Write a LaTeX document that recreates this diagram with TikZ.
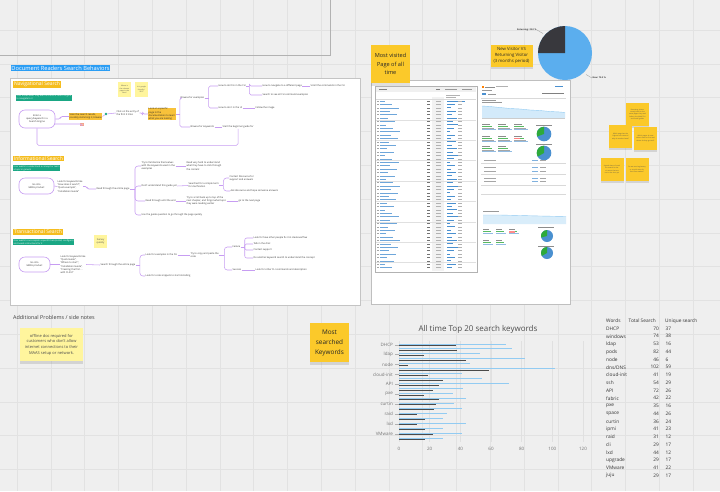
\documentclass[tikz,border=0pt]{standalone}
\usepackage{fontspec}
\setmainfont{Open Sans}
\usetikzlibrary{calc,shadows}
\definecolor{bgc}{HTML}{EFEFEF}
\definecolor{gridc}{HTML}{E2E2E2}
\definecolor{framec}{HTML}{C4C4C4}
\definecolor{flowc}{HTML}{C79DF2}
\definecolor{hlor}{HTML}{F8C23A}
\definecolor{secor}{HTML}{F5BD1F}
\definecolor{tealc}{HTML}{1AA784}
\definecolor{titleblue}{HTML}{2A9DF4}
\definecolor{lightsticky}{HTML}{FFF59D}
\definecolor{deepsticky}{HTML}{FBC92A}
\definecolor{pieblue}{HTML}{5BAEEE}
\definecolor{piedark}{HTML}{38383D}
\definecolor{barblue}{HTML}{92CBF2}
\definecolor{bardark}{HTML}{4A4A4A}
\definecolor{scrblue}{HTML}{4A90D0}
\definecolor{sgreen}{HTML}{2EAA3A}
\definecolor{linkred}{HTML}{F4A28C}
\newcommand{\fs}[2]{\fontsize{#1}{#2}\selectfont}
\begin{document}
\begin{tikzpicture}[x=1pt,y=-1pt,
  tx/.style={font=\fs{2.4}{3.1}, text=black!80, inner sep=0.4pt, align=left, anchor=west},
  fl/.style={draw=flowc, line width=0.55pt, rounded corners=1.6pt},
  startbox/.style={draw=flowc, line width=0.6pt, rounded corners=6pt, fill=white, font=\fs{2.4}{3.1}, align=center, text=black!80},
  hl/.style={fill=hlor, text=black!85, font=\fs{2.4}{3.1}, inner sep=0.5pt, align=left, anchor=west},
  seclabel/.style={fill=secor, text=white, font=\fs{5}{6}, inner sep=0.8pt, anchor=north west},
  teallabel/.style={fill=tealc, text=white, font=\fs{2.2}{2.9}, inner sep=0.5pt, anchor=north west, align=left},
  ministicky/.style={fill=lightsticky, font=\fs{1.7}{2.2}, text=black!70, align=center, minimum width=13pt, minimum height=15pt, inner sep=0.3pt, text width=11pt},
  bigsticky/.style={fill=deepsticky, text=black!85, align=center, inner sep=0pt, drop shadow={shadow xshift=0pt, shadow yshift=-2.5pt, opacity=0.25}},
  smallsticky/.style={fill=deepsticky, text=black!70, align=center, inner sep=0.5pt, font=\fs{1.6}{2.2}, text width=20pt, minimum width=23pt, minimum height=23pt, drop shadow={shadow xshift=0pt, shadow yshift=-1.5pt, opacity=0.25}},
  axlab/.style={font=\fs{4.5}{5}, text=black!55},
  tab/.style={font=\fs{4.8}{5.5}, text=black!80, inner sep=0pt},
]
\useasboundingbox (0,0) rectangle (720,491);
\fill[bgc] (0,0) rectangle (720,491);
% grid
\foreach \i in {0,...,21} \draw[gridc, line width=0.5pt] ({17+33.8*\i},0) -- ({17+33.8*\i},491);
\foreach \j in {0,...,13} \draw[gridc, line width=0.5pt] (0,{30+33.8*\j}) -- (720,{30+33.8*\j});
% top frame edge
\draw[black!30, line width=0.8pt] (0,55) -- (330,55) -- (330,0);

% ===== Main behaviours frame =====
\node[fill=titleblue, text=white, font=\fs{5.7}{6.5}, inner sep=0.8pt, anchor=north west] (title) at (10.5,65) {Document Readers Search Behaviors};
\draw[fill=white, draw=framec, line width=0.8pt] (10,78) rectangle (360,305);

% --- Navigational ---
\node[seclabel] (navl) at (13,81) {Navigational Search};
\node[teallabel] (navt) at (16,94.5) {User knows what they want and uses a search engine\\to navigate to it};
\node[ministicky] (ms1) at (124.5,89.5) {Where is\\the relevant\\page in the\\docs?};
\node[ministicky] (ms2) at (141.5,89.5) {Is it google\\friendly /\\SEO?};
\node[startbox, minimum width=36pt, minimum height=18pt] (n1) at (37,119) {Enter a\\query/keyword in a\\Search Engine};
\node[hl] (scan) at (69,116.5) {Scan the search results,\\possibly skimming it, browse};
\node[fill=linkred, text=white, font=\fs{1.8}{2}, inner sep=0.5pt] (link) at (82,124.5) {link};
\node[circle, fill=tealc, inner sep=0pt, minimum size=2.6pt] (dot) at (106,114) {};
\node[tx] (click) at (116,113) {Click on the entry of\\the first 3 links};
\node[hl] (look) at (148,114) {Look at a specific\\page in the\\documentation to learn\\what you are looking};
\node[tx] (bex) at (180,98) {Browse for examples};
\node[tx] (cli) at (218,86) {How to do this in the CLI};
\node[tx] (nav) at (262,86) {How to navigate to a different page};
\node[tx] (scr) at (310,86) {Scroll the commands in the CLI};
\node[tx] (seeall) at (262,95) {Search to see all CLI command examples};
\node[tx] (ui) at (218,108) {How to do it in the UI};
\node[tx] (img) at (255,108) {Follow the image};
\node[tx] (bkw) at (190,127) {Browse for keywords};
\node[tx] (beg) at (222,127) {Start the beginner guide for};
\draw[fl] (n1.east) -- ++(5,0) |- (scan.west);
\draw[fl] (link.south) |- ($(n1.east)+(-1,5)$);
\draw[fl] (scan.east) -- (dot) -- (click.west);
\draw[fl] (click.east) -- ++(3,0) |- (look.west);
\draw[fl] (look.east) -- ++(4,0) coordinate (h1);
\draw[fl] (h1) |- (bex.west);
\draw[fl] (h1) |- (bkw.west);
\draw[fl] (bex.east) -- ++(4,0) coordinate (h2);
\draw[fl] (h2) |- (cli.west);
\draw[fl] (h2) |- (ui.west);
\draw[fl] (cli.east) -- ++(3,0) coordinate (h3);
\draw[fl] (h3) |- (nav.west);
\draw[fl] (h3) |- (seeall.west);
\draw[fl] (nav.east) -- (scr.west);
\draw[fl] (ui.east) -- (img.west);
\draw[fl] (bkw.east) -- (beg.west);
\draw[fl] (beg.south) |- ($(n1.south)+(0,17)$) -- (n1.south);

% --- Informational ---
\node[seclabel] (infl) at (13,155.5) {Informational Search};
\node[teallabel] (inft) at (13,165) {User wants to understand a concept or learn\\a topic in general};
\node[startbox, minimum width=35pt, minimum height=16pt] (m1) at (36.5,186) {Go into\\MAAS product};
\node[tx] (kw2) at (57,186.5) {Look for keywords like\\``How does it work?'',\\``Quick example'',\\``Installation Guide''};
\node[tx] (read2) at (96,189) {Read through the entire page};
\node[tx] (fam) at (141,166) {Try to familiarize themselves\\with the keywords used in the\\examples};
\node[tx] (hard) at (186,166) {Read very hard to understand\\what they have to click through\\the content};
\node[tx] (dont) at (141,186) {Don't understand this guide yet};
\node[tx] (simple) at (188,185.5) {Searched for a simple term\\for clarification};
\node[tx] (contact) at (229,178) {Contact Discourse for\\support and answers};
\node[tx] (ask) at (230,191) {Ask discourse and hope someone answers};
\node[tx] (until) at (145,201) {Read through until the end};
\node[tx] (scb) at (186,201) {Try to scroll back up to top of the\\next chapter, and forgot what topic\\they were reading earlier};
\node[tx] (nextp) at (238,201) {go to the next page};
\node[tx] (use) at (141,215) {Use the guide question to go through the page quickly};
\draw[fl] (m1.east) -- (kw2.west);
\draw[fl] (kw2.east) -- ++(4,0) |- (read2.west);
\draw[fl] (read2.east) -- ++(5,0) coordinate (h4);
\draw[fl, rounded corners=3pt] (h4) |- (fam.west);
\draw[fl, rounded corners=3pt] (h4) |- (dont.west);
\draw[fl, rounded corners=3pt] (h4) |- (until.west);
\draw[fl, rounded corners=3pt] (h4) |- (use.west);
\draw[fl] (fam.east) -- (hard.west);
\draw[fl] (dont.east) -- (simple.west);
\draw[fl] (simple.east) -- ++(4,0) coordinate (h5);
\draw[fl, rounded corners=3pt] (h5) |- (contact.west);
\draw[fl, rounded corners=3pt] (h5) |- (ask.west);
\draw[fl] (until.east) -- (scb.west);
\draw[fl] (scb.east) -- (nextp.west);

% --- Transactional ---
\node[seclabel] (trl) at (13,229) {Transactional Search};
\node[teallabel] (trt) at (13,239) {User wants to accomplish a specific task (install, configure)\\and needs instructions for it};
\node[ministicky, font=\fs{2.4}{3.2}, text width=12pt, minimum height=13pt] (survey) at (100.5,241.5) {Survey\\quickly};
\node[startbox, minimum width=31pt, minimum height=15pt] (t1) at (34.5,264.5) {Go into\\MAAS product};
\node[tx, font=\fs{2.4}{3.3}] (kw3) at (60,264.5) {Look for keywords like\\``Quick Guide'',\\``Where to start'',\\``Installation Guide'',\\``Creating the first ...\\with CLI/UI''};
\node[tx] (search3) at (100,265) {Search through the entire page};
\node[tx] (ex3) at (145,255) {Look for examples in the CLI};
\node[tx] (snip) at (145,276) {Look for code snippets to start installing};
\node[tx] (copy) at (190,255) {Try to copy and paste the\\code};
\node[tx] (fail) at (232,247) {Failure};
\node[tx] (succ) at (232,270) {Success};
\node[tx] (so) at (253,238) {Look for how other people fix it in stackoverflow};
\node[tx] (chat) at (253,244) {Talk in the chat};
\node[tx] (sup) at (253,250) {Contact support};
\node[tx] (another) at (253,258) {Do another keyword search to understand the concept};
\node[tx] (other) at (255,270) {Look for other CLI commands and description};
\draw[fl] (t1.east) -- (kw3.west);
\draw[fl] (kw3.east) -- (search3.west);
\draw[fl] (search3.east) -- ++(4,0) coordinate (h6);
\draw[fl, rounded corners=3pt] (h6) |- (ex3.west);
\draw[fl, rounded corners=3pt] (h6) |- (snip.west);
\draw[fl] (ex3.east) -- (copy.west);
\draw[fl] (copy.east) -- ++(5,0) coordinate (h7);
\draw[fl, rounded corners=3pt] (h7) |- (fail.west);
\draw[fl, rounded corners=3pt] (h7) |- (succ.west);
\draw[fl] (fail.east) -- ++(4,0) coordinate (h8);
\draw[fl, rounded corners=2pt] (h8) |- (so.west);
\draw[fl] (h8) |- (chat.west);
\draw[fl] (h8) |- (sup.west);
\draw[fl, rounded corners=2pt] (h8) |- (another.west);
\draw[fl] (succ.east) -- (other.west);

% ===== Screenshot of analytics =====
\draw[fill=white, draw=black!25, line width=0.8pt] (371,80) rectangle (570,304);
\draw[fill=white, draw=black!30, line width=0.6pt] (375,86) rectangle (477,272);
\fill[black!6] (376,87) rectangle (476,92);
\draw[black!50, line width=0.4pt] (379,89.5) -- ++(8,0);
\draw[black!50, line width=0.6pt] (436,89.5) -- ++(4,0);
\draw[black!40, line width=0.4pt] (445,89.5) -- ++(12,0) (462,89.5) -- ++(10,0);
\fill[black!5] (432,97) rectangle (444,271);
\draw[black!30, line width=0.4pt] (446,95) -- ++(14,0) (446,97) -- ++(10,0);
\draw[black!15, line width=0.3pt] (376,99) -- (476,99);
\draw[scrblue, line width=1pt] (447,101) -- ++(18,0);
\foreach \k in {0,...,49} {
  \pgfmathsetmacro{\yy}{101+3.4*\k}
  \pgfmathsetmacro{\la}{5+mod(\k*7,16)}
  \pgfmathsetmacro{\lb}{3+mod(\k*5,9)}
  \draw[black!35, line width=0.4pt] (377,\yy) -- ++(1.5,0);
  \draw[scrblue!80, line width=0.6pt] (380,\yy) -- ++(\la,0);
  \draw[black!55, line width=0.5pt] (427,\yy) -- ++(3,0);
  \draw[black!30, line width=0.4pt] (436,\yy) -- ++(5,0);
  \draw[scrblue, line width=0.8pt] (447,\yy) -- ++(\lb,0);
  \draw[black!30, line width=0.3pt] (458,\yy) -- ++(4,0);
}
\foreach \k in {5,11,17,23,29,35,41,47} \draw[black!12, line width=0.3pt] (376,{102.7+3.4*\k}) -- (476,{102.7+3.4*\k});
% right panel of screenshot
\fill[orange] (482,86) rectangle (483.5,88);
\draw[black!45, line width=0.4pt] (485,87) -- ++(10,0);
\draw[black!30, line width=0.3pt] (496,86.5) -- ++(12,0);
\draw[scrblue, line width=0.3pt] (555,86) -- ++(8,0);
\draw[black!40, line width=0.3pt] (482,90) -- ++(10,0);
\fill[scrblue] (482,93) rectangle (486,95);
\draw[black!40, line width=0.4pt] (488,94) -- ++(8,0);
\draw[black!50, line width=0.4pt] (542,93) -- ++(22,0);
\draw[black!15, line width=0.3pt] (481,98) -- (566,98);
\draw[black!40, line width=0.3pt] (482,100) -- ++(14,0) (482,102.5) -- ++(20,0);
\fill[barblue!40] (482,118) -- (482,106) -- (490,106.5) -- (500,107.5) -- (510,108.5) -- (520,109) -- (530,110) -- (540,110.5) -- (550,111.5) -- (560,112) -- (565,112.5) -- (565,118) -- cycle;
\draw[barblue, line width=0.4pt] (482,106) -- (490,106.5) -- (500,107.5) -- (510,108.5) -- (520,109) -- (530,110) -- (540,110.5) -- (550,111.5) -- (560,112) -- (565,112.5);
\draw[black!20, line width=0.3pt] (482,118) -- (565,118);
\foreach \px/\py in {482/124, 498/124, 514/124, 482/136, 498/136, 514/136, 482/146, 498/146} {
  \draw[black!45, line width=0.3pt] (\px,\py) -- ++(8,0);
  \draw[sgreen!80, line width=0.8pt] (\px,\py+2.2) -- ++(10,0);
  \draw[black!35, line width=0.3pt] (\px,\py+4.2) -- ++(12,0);
  \draw[scrblue!60, line width=0.4pt] (\px,\py+5.6) -- ++(14,0);
}
\fill[red!50] (514,137.5) rectangle (520,139);
\draw[black!45, line width=0.3pt] (536,125.5) -- ++(16,0) (536,144.5) -- ++(16,0);
\fill[scrblue] (544,134) circle (7.3);
\fill[sgreen] (544,134) -- (544,126.7) arc[start angle=270, end angle=160, radius=7.3] -- cycle;
\fill[scrblue] (544,153) circle (7.3);
\fill[sgreen] (544,153) -- (544,145.7) arc[start angle=270, end angle=150, radius=7.3] -- cycle;
\foreach \k in {0,...,7} {
  \pgfmathsetmacro{\yy}{160+3.6*\k}
  \draw[black!35, line width=0.3pt] (484,\yy) -- ++(12,0);
  \draw[scrblue!70, line width=0.6pt] (532,\yy) -- ++(6,0);
  \draw[black!35, line width=0.3pt] (540,\yy) -- ++(6,0);
}
\draw[black!15, line width=0.3pt] (481,163.5) -- (566,163.5) (481,174.5) -- (566,174.5) (481,185) -- (566,185) (481,194) -- (566,194);
\draw[black!40, line width=0.3pt] (483,211) -- ++(16,0);
\fill[barblue!35] (483,224) -- (483,215) -- (500,215) -- (520,215.5) -- (540,216) -- (566,216.5) -- (566,224) -- cycle;
\draw[barblue, line width=0.4pt] (483,215) -- (500,215) -- (520,215.5) -- (540,216) -- (566,216.5);
\foreach \px/\py in {483/229, 496/229, 509/229, 483/240, 496/240} {
  \draw[black!45, line width=0.3pt] (\px,\py) -- ++(6,0);
  \draw[sgreen!80, line width=0.7pt] (\px,\py+2) -- ++(8,0);
  \draw[scrblue!60, line width=0.4pt] (\px,\py+4) -- ++(10,0);
}
\fill[red!45] (509,231) rectangle (515,232.5);
\draw[black!45, line width=0.3pt] (538,227.5) -- ++(16,0) (538,246) -- ++(16,0);
\fill[scrblue] (547,236) circle (6);
\fill[sgreen] (547,236) -- (547,230) arc[start angle=270, end angle=165, radius=6] -- cycle;
\fill[scrblue] (547,253) circle (6);
\fill[sgreen] (547,253) -- (547,247) arc[start angle=270, end angle=150, radius=6] -- cycle;

% stickies above screenshot
\node[bigsticky, minimum width=39pt, minimum height=38pt, font=\fs{5.6}{8.3}] (mv) at (390.5,64) {Most visited\\Page of all\\time};
\node[bigsticky, minimum width=42pt, minimum height=22pt, font=\fs{4.3}{6.3}] (nv) at (511.5,55.5) {New Visitor VS\\Returning Visitor\\(3 months period)};

% pie
\fill[pieblue] (565,53) circle (27);
\fill[piedark] (565,53) -- (538,53) arc[start angle=180, end angle=270, radius=27] -- cycle;
\node[font=\bfseries\fs{2.2}{2.6}, text=black!80, anchor=east, inner sep=0.3pt] (retl) at (537,30) {Returning: 25.0 \%};
\node[font=\bfseries\fs{2.2}{2.6}, text=black!80, anchor=west, inner sep=0.3pt] (newl) at (592,78) {New: 75.0 \%};
\coordinate (retp) at (543,33.5);
\coordinate (newp) at (586,74.5);
\draw[black!40, line width=0.3pt] (retl.east) -- (retp);
\draw[black!40, line width=0.3pt] (newp) -- (newl.west);

% right stickies
\node[smallsticky] (s1) at (637.5,114.5) {Returning visitors mostly look for the same pages they read before, the MAAS CLI and install guides};
\node[smallsticky] (s2) at (620.5,136.5) {Which page has the highest exit rate and why do readers leave?};
\node[smallsticky] (s3) at (645.5,138.5) {Which pages do new visitors land on first and where do they go next?};
\node[smallsticky] (s4) at (612,169.5) {A good share of readers search for basic terms that are not in the docs yet};
\node[smallsticky] (s5) at (637,169.5) {Do we need a glossary or a quick start for first time readers?};

% ===== Additional problems =====
\node[font=\fs{5.4}{6}, text=black!75, anchor=west, inner sep=0pt] (addp) at (13,317) {Additional Problems / side notes};
\node[fill=lightsticky, minimum width=63pt, minimum height=33pt, align=center, font=\fs{4}{5.7}, text=black!70, inner sep=0pt, drop shadow={shadow xshift=0pt, shadow yshift=-2.5pt, opacity=0.25}] (offl) at (51.5,344.5) {offline doc required for\\customers who don't allow\\internet connections to their\\MAAS setup or network.};

% ===== Keyword chart =====
\node[bigsticky, minimum width=39pt, minimum height=39pt, font=\fs{6.4}{10}] (msk) at (329.5,342.5) {Most\\searched\\Keywords};
\node[font=\fs{8}{9}, text=black!70] (ctitle) at (478,329) {All time Top 20 search keywords};
\foreach \v in {0,20,40,60,80,100,120} {
  \draw[black!12, line width=0.5pt] ({399+1.5333*\v},341) -- ({399+1.5333*\v},442);
  \node[axlab] at ({399+1.5333*\v},449) {\v};
}
\foreach \t/\u [count=\i from 0] in {70/37,74/38,53/16,82/44,46/6,102/59,41/19,54/29,72/26,42/22,35/16,44/26,36/24,41/23,31/12,29/17,44/12,29/17,41/22,29/17} {
  \draw[barblue, line width=1pt] (399,{344+4.95*\i}) -- ++({1.5333*\t},0);
  \draw[bardark, line width=1pt] (399,{345.5+4.95*\i}) -- ++({1.5333*\u},0);
}
\foreach \w [count=\i from 0] in {DHCP,ldap,node,cloud-init,API,pxe,curtin,raid,lxd,VMware} {
  \node[axlab, anchor=east, inner sep=0pt] at (393,{344.7+9.9*\i}) {\w};
  \draw[black!30, line width=0.3pt] (395,{344.7+9.9*\i}) -- (399,{344.7+9.9*\i});
}

% ===== Table =====
\node[tab, anchor=west] (hw) at (606,321) {Words};
\node[tab, anchor=west] (ht) at (628.5,321) {Total Search};
\node[tab, anchor=west] (hu) at (665,321) {Unique search};
\foreach \w/\t/\u [count=\i from 0] in {DHCP/70/37,windows/74/38,ldap/53/16,pods/82/44,node/46/6,dns\slash DNS/102/59,cloud-init/41/19,ssh/54/29,API/72/26,fabric/42/22,pxe/35/16,space/44/26,curtin/36/24,ipmi/41/23,raid/31/12,cli/29/17,lxd/44/12,upgrade/29/17,VMware/41/22,juju/29/17} {
  \node[tab, anchor=west] at (606,{328.5+7.75*\i}) {\w};
  \node[tab, anchor=east] at (659,{328.5+7.75*\i}) {\t};
  \node[tab, anchor=west] at (665.5,{328.5+7.75*\i}) {\u};
}
\end{tikzpicture}
\end{document}
